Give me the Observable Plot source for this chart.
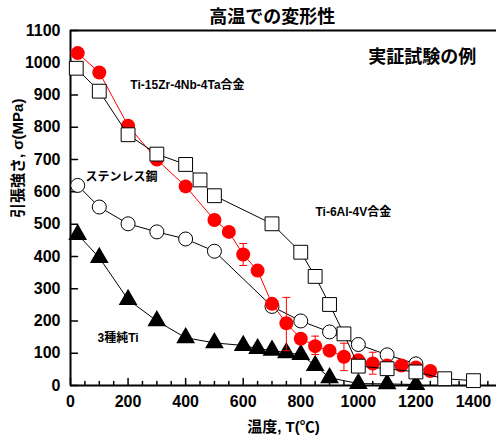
<!DOCTYPE html>
<html><head><meta charset="utf-8">
<script src="https://cdn.jsdelivr.net/npm/d3@7"></script>
<script src="https://cdn.jsdelivr.net/npm/@observablehq/plot@0.6"></script>
<style>
body{margin:0;background:#fff}
svg{font-family:"Liberation Sans","Noto Sans CJK JP",sans-serif;font-weight:bold}
</style>
</head><body><div id="chart"></div>
<script>
// Ti-15Zr-4Nb-4Ta alloy (red filled circles)
const tiZrT = [25,100,200,300,400,500,550,600,650,700,750,800,850,900,950,1000,1050,1100,1150,1200,1250];
const tiZrS = [1030,970,805,700,617,513,476,406,356,253,193,145,122,108,89,78,68,62,62,56,45];
// error bars on red series
const errT  = [600,750,850,950,1050];
const errLo = [372,108,96,46,35];
const errHi = [440,273,153,131,103];
// Ti-6Al-4V alloy (open squares)
const ti64T = [20,100,200,300,400,450,500,700,800,850,900,950,1000,1100,1200,1300,1400];
const ti64S = [983,912,777,717,685,637,588,501,413,338,251,160,60,52,42,21,15];
// stainless steel (open circles)
const susT = [25,100,200,300,400,500,700,800,900,1000,1100,1200];
const susS = [620,553,501,476,454,416,245,200,166,127,95,67];
// CP Ti grade 3 (filled triangles)
const cpT = [25,100,200,300,400,500,600,650,700,750,800,850,900,1000,1100,1200];
const cpS = [468,396,266,200,148,132,124,114,109,101,96,62,24,6,5,3];

const xTickLabels = [0,200,400,600,800,1000,1200,1400];
const xMinor = [50,100,150,250,300,350,450,500,550,650,700,750,850,900,950,1050,1100,1150,1250,1300,1350,1450];
const yTickLabels = [0,100,200,300,400,500,600,700,800,900,1000,1100];

const titleText = "高温での変形性";
const subText = "実証試験の例";
const xTitle = "温度, T(℃)";
const yTitle = "引張強さ, σ(MPa)";
const seriesLabels = ["Ti-15Zr-4Nb-4Ta合金","ステンレス鋼","Ti-6Al-4V合金","3種純Ti"];
const seriesLabelT = [208,52,851,94];
const seriesLabelS = [930,645,536,146];

const zip = (xs, ys) => xs.map((x,i)=>({x, y: ys[i]}));
const red = zip(tiZrT, tiZrS);
const sq = zip(ti64T, ti64S);
const oc = zip(susT, susS);
const tri = zip(cpT, cpS);
const errs = errT.map((x,i)=>({x, lo: errLo[i], hi: errHi[i]}));
const labels = seriesLabels.map((t,i)=>({t, x: seriesLabelT[i], y: seriesLabelS[i]}));

const line = {draw(ctx, l){ ctx.moveTo(0,0); ctx.lineTo(0,-l); }};
const capShape = {draw(ctx, l){ ctx.moveTo(0,-l/2); ctx.lineTo(0,l/2); }};
const fmt = d => String(d);

const chart = Plot.plot({
  width: 496, height: 441,
  marginLeft: 70, marginRight: 0, marginTop: 30, marginBottom: 56,
  x: {domain: [0, 1480]},
  y: {domain: [0, 1100]},
  marks: [
    // frame
    Plot.ruleY([0], {stroke: "black", strokeWidth: 2}),
    Plot.ruleY([1100], {stroke: "black", strokeWidth: 2}),
    Plot.ruleX([0], {stroke: "black", strokeWidth: 2}),
    // inward ticks
    Plot.vector(xTickLabels, {x: d=>d, y: 0, length: 7, anchor: "start", shape: line, stroke: "black", strokeWidth: 1.5}),
    Plot.vector(xMinor, {x: d=>d, y: 0, length: 4, anchor: "start", shape: line, stroke: "black", strokeWidth: 1.5}),
    Plot.vector(yTickLabels, {x: 0, y: d=>d, length: 7, rotate: 90, anchor: "start", shape: line, stroke: "black", strokeWidth: 1.5}),
    Plot.axisX(xTickLabels, {tickSize: 0, tickPadding: 10, fontSize: 16, fontWeight: "bold", label: null, tickFormat: fmt}),
    Plot.axisY(yTickLabels, {tickSize: 0, tickPadding: 10, fontSize: 16, fontWeight: "bold", label: null, tickFormat: fmt}),
    // stainless steel
    Plot.line(oc, {x: "x", y: "y", stroke: "black", strokeWidth: 1}),
    Plot.dot(oc, {x: "x", y: "y", r: 7, fill: "white", stroke: "black", strokeWidth: 1}),
    // CP Ti
    Plot.line(tri, {x: "x", y: "y", stroke: "black", strokeWidth: 1}),
    Plot.dot(tri, {x: "x", y: "y", r: 6, symbol: "triangle", fill: "black", stroke: "black"}),
    // Ti-15Zr-4Nb-4Ta
    Plot.ruleX(errs, {x: "x", y1: "lo", y2: "hi", stroke: "red", strokeWidth: 1}),
    Plot.vector(errs, {x: "x", y: "lo", length: 7, rotate: 90, anchor: "start", shape: capShape, stroke: "red", strokeWidth: 1}),
    Plot.vector(errs, {x: "x", y: "hi", length: 7, rotate: 90, anchor: "start", shape: capShape, stroke: "red", strokeWidth: 1}),
    Plot.line(red, {x: "x", y: "y", stroke: "red", strokeWidth: 1}),
    Plot.dot(red, {x: "x", y: "y", r: 7, fill: "red", stroke: "none"}),
    // Ti-6Al-4V
    Plot.line(sq, {x: "x", y: "y", stroke: "black", strokeWidth: 1}),
    Plot.dot(sq, {x: "x", y: "y", r: 7.8, symbol: "square", fill: "white", stroke: "black", strokeWidth: 1}),
    // labels
    Plot.text(labels, {x: "x", y: "y", text: "t", textAnchor: "start", fontSize: 12, fontWeight: "bold"}),
    Plot.text([subText], {x: 1222, y: 1016, text: d=>d, fontSize: 18, fontWeight: "bold"}),
    Plot.text([titleText], {x: 701, y: 1100, dy: -13, text: d=>d, fontSize: 18, fontWeight: "bold"}),
    Plot.text([xTitle], {frameAnchor: "bottom", dy: 46, text: d=>d, fontSize: 15, fontWeight: "bold"}),
    Plot.text([yTitle], {frameAnchor: "left", dx: -52, dy: 10, rotate: -90, text: d=>d, fontSize: 15, fontWeight: "bold"})
  ]
});
document.getElementById("chart").appendChild(chart);
</script>
</body></html>
